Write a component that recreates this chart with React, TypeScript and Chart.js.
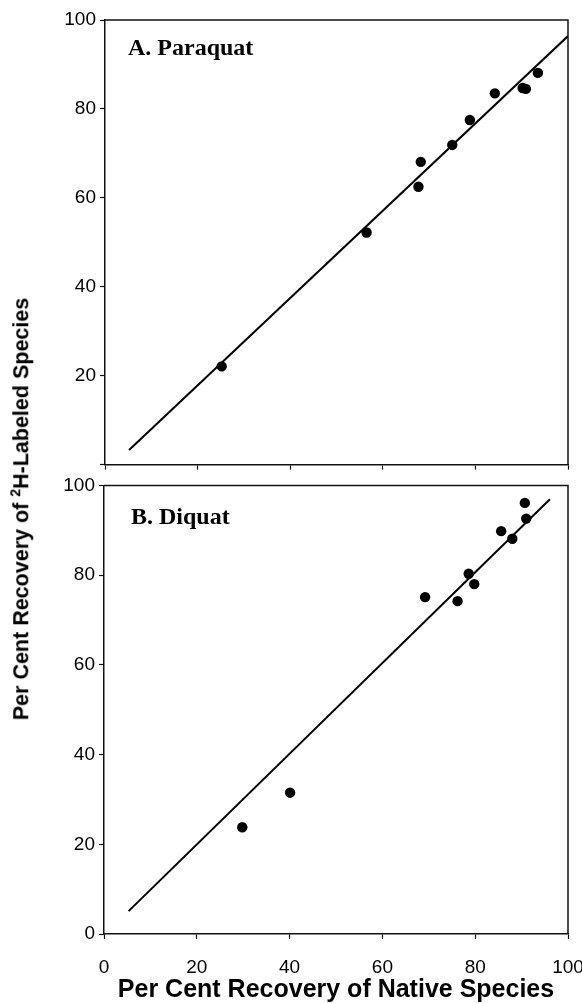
import React, { useEffect, useRef } from "react";
import { Chart, registerables } from "chart.js";

Chart.register(...registerables);

// ---- Data ----
const paraquatNativeX = [25.2, 56.5, 67.7, 68.2, 75.0, 78.8, 84.2, 90.2, 90.9, 93.5];
const paraquatLabeledY = [22.1, 52.2, 62.5, 68.1, 71.9, 77.5, 83.5, 84.7, 84.5, 88.1];
const paraquatFitX = [5.2, 100];
const paraquatFitY = [3.3, 96.4];

const diquatNativeX = [29.8, 40.1, 69.2, 76.2, 78.6, 79.8, 85.6, 88.0, 91.0, 90.7];
const diquatLabeledY = [23.8, 31.5, 75.1, 74.2, 80.3, 78.0, 89.8, 88.1, 92.6, 96.1];
const diquatFitX = [5.3, 96.1];
const diquatFitY = [5.1, 96.9];

const axisTicks = [0, 20, 40, 60, 80, 100];
const panelLabels = ["A. Paraquat", "B. Diquat"];
const xAxisTitle = "Per Cent Recovery of Native Species";
const yTitleBefore = "Per Cent Recovery of ";
const yTitleSup = "2";
const yTitleAfter = "H-Labeled Species";

const SANS = '"Liberation Sans", Arial, Helvetica, sans-serif';
const SERIF = '"Liberation Serif", "Times New Roman", serif';

const CANVAS_W = 620;
const PLOT_RIGHT = 568;

const framePlugin = {
  id: "frame",
  afterDraw(chart: any, _args: any, opts: any) {
    const { ctx, chartArea: a } = chart;
    ctx.save();
    ctx.strokeStyle = "#111";
    ctx.lineWidth = 1.5;
    ctx.beginPath();
    ctx.moveTo(a.left, a.top);
    ctx.lineTo(a.right, a.top);
    ctx.lineTo(a.right, a.bottom);
    ctx.stroke();
    ctx.fillStyle = "#000";
    ctx.font = `bold 24px ${SERIF}`;
    ctx.textBaseline = "alphabetic";
    ctx.textAlign = "left";
    ctx.fillText(opts.label, a.left + opts.dx, a.top + opts.dy);
    ctx.restore();
  },
};

type PanelProps = {
  top: number;
  height: number;
  xs: number[];
  ys: number[];
  fitX: number[];
  fitY: number[];
  label: string;
  labelDx: number;
  labelDy: number;
  padTop: number;
  yWidth: number;
  xHeight: number;
  showX: boolean;
  showZero: boolean;
};

function Panel(p: PanelProps) {
  const ref = useRef<HTMLCanvasElement | null>(null);
  useEffect(() => {
    if (!ref.current) return;
    const points = p.xs.map((x, i) => ({ x, y: p.ys[i] }));
    const fit = p.fitX.map((x, i) => ({ x, y: p.fitY[i] }));
    const chart = new Chart(ref.current, {
      type: "scatter",
      data: {
        datasets: [
          {
            data: fit,
            showLine: true,
            borderColor: "#000",
            borderWidth: 2,
            pointRadius: 0,
            fill: false,
          },
          {
            data: points,
            pointRadius: 5.2,
            pointBackgroundColor: "#000",
            pointBorderColor: "#000",
            pointBorderWidth: 0,
            showLine: false,
          },
        ],
      },
      options: {
        animation: false,
        responsive: false,
        devicePixelRatio: 1,
        layout: { padding: { top: p.padTop, right: CANVAS_W - PLOT_RIGHT, left: 0, bottom: 0 } },
        plugins: {
          legend: { display: false },
          tooltip: { enabled: false },
          frame: { label: p.label, dx: p.labelDx, dy: p.labelDy },
        } as any,
        scales: {
          x: {
            type: "linear",
            min: 0,
            max: 100,
            afterBuildTicks: (s: any) => {
              s.ticks = axisTicks.map((v) => ({ value: v }));
            },
            afterFit: (s: any) => {
              s.height = p.xHeight;
            },
            grid: { drawOnChartArea: false, drawTicks: true, tickLength: 5, color: "#111", tickWidth: 1.2 },
            border: { display: true, color: "#111", width: 1.5 },
            ticks: {
              display: p.showX,
              color: "#000",
              font: { family: SANS, size: 19 },
              padding: 17,
              maxRotation: 0,
              autoSkip: false,
            },
            title: {
              display: p.showX,
              text: xAxisTitle,
              color: "#000",
              font: { family: SANS, size: 25, weight: "bold" },
              padding: { top: 0, bottom: -2 },
            },
          },
          y: {
            type: "linear",
            min: 0,
            max: 100,
            afterBuildTicks: (s: any) => {
              s.ticks = axisTicks.map((v) => ({ value: v }));
            },
            afterFit: (s: any) => {
              s.width = p.yWidth;
            },
            grid: { drawOnChartArea: false, drawTicks: true, tickLength: 5, color: "#111", tickWidth: 1.2 },
            border: { display: true, color: "#111", width: 1.5 },
            ticks: {
              color: "#000",
              font: { family: SANS, size: 19 },
              padding: 4,
              autoSkip: false,
              callback: (v: any) => (v === 0 && !p.showZero ? "" : String(v)),
            },
          },
        },
      },
      plugins: [framePlugin],
    });
    return () => chart.destroy();
  }, []);
  return (
    <canvas
      ref={ref}
      width={CANVAS_W}
      height={p.height}
      style={{ position: "absolute", left: 0, top: p.top, width: CANVAS_W, height: p.height }}
    />
  );
}

export default function App() {
  return (
    <div
      style={{
        position: "fixed",
        left: 0,
        top: 0,
        width: 582,
        height: 1003,
        overflow: "hidden",
        background: "#fff",
      }}
    >
      <Panel
        top={0}
        height={480}
        xs={paraquatNativeX}
        ys={paraquatLabeledY}
        fitX={paraquatFitX}
        fitY={paraquatFitY}
        label={panelLabels[0]}
        labelDx={23}
        labelDy={35}
        padTop={20}
        yWidth={105}
        xHeight={12}
        showX={false}
        showZero={false}
      />
      <Panel
        top={470}
        height={533}
        xs={diquatNativeX}
        ys={diquatLabeledY}
        fitX={diquatFitX}
        fitY={diquatFitY}
        label={panelLabels[1]}
        labelDx={27}
        labelDy={39}
        padTop={6}
        yWidth={104}
        xHeight={69}
        showX={true}
        showZero={true}
      />
      <div
        style={{
          position: "absolute",
          left: 22,
          top: 509,
          transform: "translate(-50%, -50%) rotate(-90deg)",
          whiteSpace: "nowrap",
          fontFamily: SANS,
          fontWeight: "bold",
          fontSize: 21.5,
          color: "#000",
          lineHeight: 1,
        }}
      >
        {yTitleBefore}
        <sup style={{ fontSize: 14, verticalAlign: "0.55em", lineHeight: 0 }}>{yTitleSup}</sup>
        {yTitleAfter}
      </div>
    </div>
  );
}
